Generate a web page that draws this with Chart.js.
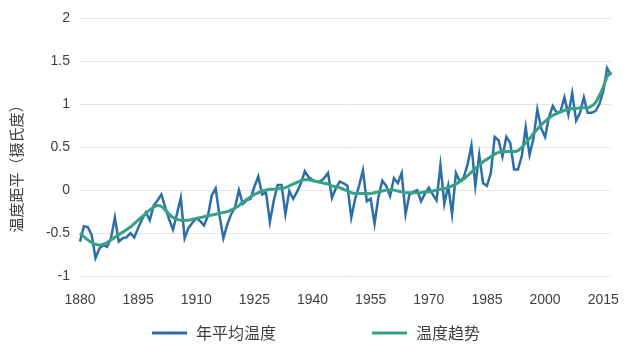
<!DOCTYPE html>
<html>
<head>
<meta charset="utf-8">
<script src="https://cdn.jsdelivr.net/npm/chart.js@4"></script>
<style>
html, body { margin: 0; padding: 0; background: #fff; }
</style>
</head>
<body>
<canvas id="tempChart" width="627" height="362"></canvas>
<script>
// annual mean anomaly, 1880 - 2017
const annualMean = [
  -0.60, -0.42, -0.43, -0.52, -0.79, -0.68, -0.64, -0.66, -0.56, -0.32,
  -0.60, -0.56, -0.55, -0.50, -0.55, -0.44, -0.34, -0.26, -0.35, -0.18,
  -0.12, -0.05, -0.20, -0.34, -0.46, -0.28, -0.09, -0.56, -0.44, -0.38,
  -0.33, -0.36, -0.41, -0.30, -0.06, 0.02, -0.30, -0.56, -0.40, -0.28,
  -0.20, 0.00, -0.16, -0.12, -0.10, 0.04, 0.16, -0.05, -0.03, -0.37,
  -0.12, 0.06, 0.06, -0.28, -0.01, -0.10, -0.02, 0.08, 0.22, 0.15,
  0.12, 0.10, 0.10, 0.14, 0.20, -0.09, 0.02, 0.10, 0.08, 0.05,
  -0.32, -0.10, 0.05, 0.23, -0.13, -0.10, -0.39, -0.08, 0.11, 0.05,
  -0.07, 0.14, 0.08, 0.20, -0.28, -0.05, -0.02, 0.00, -0.13, -0.04,
  0.03, -0.05, -0.12, 0.29, -0.16, 0.05, -0.28, 0.20, 0.10, 0.15,
  0.30, 0.52, 0.05, 0.41, 0.08, 0.05, 0.20, 0.62, 0.58, 0.39,
  0.62, 0.55, 0.24, 0.24, 0.40, 0.73, 0.41, 0.60, 0.94, 0.72,
  0.62, 0.85, 0.98, 0.90, 0.92, 1.08, 0.88, 1.13, 0.81, 0.90,
  1.08, 0.90, 0.90, 0.92, 1.00, 1.15, 1.42, 1.34
];

// smoothed trend, 1880 - 2017
const trend = [
  -0.50, -0.54, -0.58, -0.61, -0.63, -0.64, -0.63, -0.61, -0.58, -0.55,
  -0.52, -0.49, -0.46, -0.43, -0.39, -0.35, -0.31, -0.27, -0.23, -0.20,
  -0.18, -0.19, -0.23, -0.28, -0.32, -0.34, -0.35, -0.35, -0.35, -0.34,
  -0.33, -0.32, -0.31, -0.30, -0.29, -0.28, -0.27, -0.26, -0.25, -0.23,
  -0.21, -0.18, -0.14, -0.11, -0.08, -0.05, -0.03, -0.01, 0.00, 0.01,
  0.01, 0.02, 0.02, 0.03, 0.05, 0.07, 0.09, 0.11, 0.12, 0.12,
  0.11, 0.10, 0.09, 0.08, 0.07, 0.05, 0.04, 0.03, 0.01, -0.01,
  -0.03, -0.04, -0.04, -0.04, -0.04, -0.04, -0.03, -0.02, -0.01, 0.00,
  0.00, 0.00, -0.01, -0.02, -0.03, -0.03, -0.03, -0.03, -0.03, -0.02,
  -0.02, -0.01, 0.00, 0.01, 0.02, 0.03, 0.05, 0.07, 0.10, 0.13,
  0.17, 0.21, 0.25, 0.29, 0.33, 0.36, 0.39, 0.42, 0.44, 0.45,
  0.45, 0.45, 0.45, 0.46, 0.50, 0.55, 0.60, 0.66, 0.71, 0.76,
  0.80, 0.84, 0.87, 0.89, 0.91, 0.93, 0.94, 0.95, 0.95, 0.96,
  0.96, 0.96, 0.98, 1.02, 1.10, 1.20, 1.32, 1.38
];

const firstYear = 1880;
const years = annualMean.map((_, i) => firstYear + i);
const xTickLabels = [1880, 1895, 1910, 1925, 1940, 1955, 1970, 1985, 2000, 2015];
const seriesNames = ['年平均温度', '温度趋势'];
const yTitle = '温度距平（摄氏度）';

const BLUE = '#2c6ea8';
const GREEN = '#36a184';
const FONT = '"Liberation Sans", Arial, "Noto Sans CJK SC", sans-serif';
const CJK = '"Noto Sans CJK SC", "Liberation Sans", sans-serif';

// legend + rotated axis title, drawn by hand so spacing matches
const extrasPlugin = {
  id: 'extras',
  afterDraw(chart) {
    const c = chart.ctx;
    c.save();
    c.fillStyle = '#404040';
    c.font = '15px ' + CJK;
    c.textAlign = 'center';
    c.textBaseline = 'middle';
    c.translate(16, 165);
    c.rotate(-Math.PI / 2);
    c.fillText(yTitle, 0, 0);
    c.restore();

    const slots = [152, 372];
    const ly = 333;
    c.save();
    c.font = '16px ' + CJK;
    c.textBaseline = 'middle';
    c.textAlign = 'left';
    chart.data.datasets.forEach((ds, i) => {
      const x = slots[i];
      c.strokeStyle = ds.borderColor;
      c.lineWidth = 3;
      c.beginPath();
      c.moveTo(x, ly);
      c.lineTo(x + 35, ly);
      c.stroke();
      c.fillStyle = '#404040';
      c.fillText(ds.label, x + 44, ly);
    });
    c.restore();
  }
};

const ctx = document.getElementById('tempChart');
new Chart(ctx.getContext('2d'), {
  type: 'line',
  data: {
    labels: years,
    datasets: [
      {
        label: seriesNames[0],
        data: annualMean,
        borderColor: BLUE,
        backgroundColor: BLUE,
        borderWidth: 2.5,
        pointRadius: 0,
        tension: 0,
        order: 1
      },
      {
        label: seriesNames[1],
        data: trend,
        borderColor: GREEN,
        backgroundColor: GREEN,
        borderWidth: 3,
        pointRadius: 0,
        tension: 0.4,
        order: 0
      }
    ]
  },
  options: {
    responsive: false,
    animation: false,
    layout: { padding: { top: 14, right: 14, bottom: 56, left: 0 } },
    plugins: {
      legend: { display: false },
      tooltip: { enabled: false }
    },
    scales: {
      x: {
        type: 'category',
        offset: false,
        grid: { display: false },
        border: { display: false },
        ticks: {
          autoSkip: false,
          maxRotation: 0,
          padding: 8,
          color: '#404040',
          font: { family: FONT, size: 14 },
          callback: function(val, i) {
            const y = years[i];
            return xTickLabels.includes(y) ? String(y) : null;
          }
        },
        afterFit: function(scale) { scale.height = 30; }
      },
      y: {
        min: -1,
        max: 2,
        grid: { color: '#e4e4e4', drawTicks: false },
        border: { display: false },
        ticks: {
          stepSize: 0.5,
          padding: 10,
          color: '#404040',
          font: { family: FONT, size: 14 },
          callback: v => String(v)
        },
        afterFit: function(scale) { scale.width = 80; }
      }
    }
  },
  plugins: [extrasPlugin]
});
</script>
</body>
</html>
